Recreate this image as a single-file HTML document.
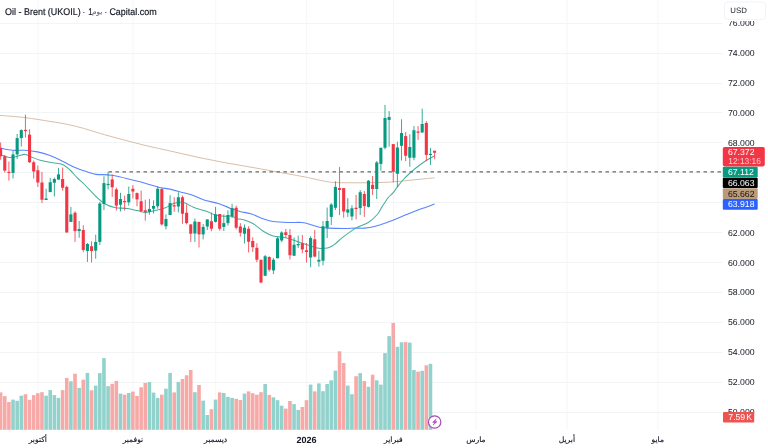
<!DOCTYPE html>
<html lang="ar">
<head>
<meta charset="utf-8">
<title>Oil - Brent (UKOIL)</title>
<style>
html,body{margin:0;padding:0;background:#fff;}
body{width:768px;height:448px;overflow:hidden;position:relative;font-family:"Liberation Sans","DejaVu Sans",sans-serif;}
svg{position:absolute;left:0;top:0;display:block;}
svg text{font-family:"Liberation Sans","DejaVu Sans",sans-serif;text-rendering:geometricPrecision;}
.ax{font-size:8.7px;fill:#131722;}
.ti{font-size:9.7px;fill:#131722;stroke:#131722;stroke-width:.18px;}
.tm{font-size:7.6px;fill:#131722;text-anchor:middle;stroke:#131722;stroke-width:.15px;}
.lb{font-size:8.7px;fill:#fff;}
</style>
</head>
<body>
<svg width="768" height="448" viewBox="0 0 768 448">
<rect x="0" y="0" width="768" height="448" fill="#ffffff"/>

<g fill="#f2f5f6">
<rect x="0" y="23" width="722.3" height="1"/>
<rect x="0" y="53" width="722.3" height="1"/>
<rect x="0" y="83" width="722.3" height="1"/>
<rect x="0" y="112" width="722.3" height="1"/>
<rect x="0" y="142" width="722.3" height="1"/>
<rect x="0" y="172" width="722.3" height="1"/>
<rect x="0" y="202" width="722.3" height="1"/>
<rect x="0" y="232" width="722.3" height="1"/>
<rect x="0" y="262" width="722.3" height="1"/>
<rect x="0" y="292" width="722.3" height="1"/>
<rect x="0" y="322" width="722.3" height="1"/>
<rect x="0" y="352" width="722.3" height="1"/>
<rect x="0" y="382" width="722.3" height="1"/>
<rect x="0" y="412" width="722.3" height="1"/>
</g>
<g stroke="#f4f6f8" stroke-width="1">
<line x1="38.03" y1="0" x2="38.03" y2="430"/>
<line x1="133.09" y1="0" x2="133.09" y2="430"/>
<line x1="215.75" y1="0" x2="215.75" y2="430"/>
<line x1="306.68" y1="0" x2="306.68" y2="430"/>
<line x1="393.47" y1="0" x2="393.47" y2="430"/>
<line x1="476.13" y1="0" x2="476.13" y2="430"/>
<line x1="567.06" y1="0" x2="567.06" y2="430"/>
<line x1="657.98" y1="0" x2="657.98" y2="430"/>
</g>
<g>
<rect x="0.00" y="392.40" width="2.43" height="37.40" fill="#f7a9a7"/>
<rect x="2.96" y="396.10" width="3.60" height="33.70" fill="#f7a9a7"/>
<rect x="7.10" y="402.00" width="3.60" height="27.80" fill="#f7a9a7"/>
<rect x="11.23" y="399.60" width="3.60" height="30.20" fill="#92d2cc"/>
<rect x="15.36" y="400.80" width="3.60" height="29.00" fill="#92d2cc"/>
<rect x="19.49" y="395.70" width="3.60" height="34.10" fill="#92d2cc"/>
<rect x="23.63" y="394.20" width="3.60" height="35.60" fill="#f7a9a7"/>
<rect x="27.76" y="399.80" width="3.60" height="30.00" fill="#f7a9a7"/>
<rect x="31.89" y="395.10" width="3.60" height="34.70" fill="#f7a9a7"/>
<rect x="36.03" y="393.20" width="3.60" height="36.60" fill="#f7a9a7"/>
<rect x="40.16" y="392.20" width="3.60" height="37.60" fill="#f7a9a7"/>
<rect x="44.29" y="395.70" width="3.60" height="34.10" fill="#92d2cc"/>
<rect x="48.43" y="390.10" width="3.60" height="39.70" fill="#92d2cc"/>
<rect x="52.56" y="395.10" width="3.60" height="34.70" fill="#92d2cc"/>
<rect x="56.69" y="397.90" width="3.60" height="31.90" fill="#92d2cc"/>
<rect x="60.83" y="390.10" width="3.60" height="39.70" fill="#f7a9a7"/>
<rect x="64.96" y="378.00" width="3.60" height="51.80" fill="#f7a9a7"/>
<rect x="69.09" y="381.30" width="3.60" height="48.50" fill="#92d2cc"/>
<rect x="73.22" y="373.70" width="3.60" height="56.10" fill="#f7a9a7"/>
<rect x="77.36" y="387.90" width="3.60" height="41.90" fill="#92d2cc"/>
<rect x="81.49" y="379.70" width="3.60" height="50.10" fill="#f7a9a7"/>
<rect x="85.62" y="372.90" width="3.60" height="56.90" fill="#92d2cc"/>
<rect x="89.76" y="390.30" width="3.60" height="39.50" fill="#f7a9a7"/>
<rect x="93.89" y="385.60" width="3.60" height="44.20" fill="#92d2cc"/>
<rect x="98.02" y="373.10" width="3.60" height="56.70" fill="#92d2cc"/>
<rect x="102.16" y="358.10" width="3.60" height="71.70" fill="#92d2cc"/>
<rect x="106.29" y="386.20" width="3.60" height="43.60" fill="#92d2cc"/>
<rect x="110.42" y="383.80" width="3.60" height="46.00" fill="#f7a9a7"/>
<rect x="114.55" y="380.90" width="3.60" height="48.90" fill="#f7a9a7"/>
<rect x="118.69" y="393.60" width="3.60" height="36.20" fill="#92d2cc"/>
<rect x="122.82" y="394.70" width="3.60" height="35.10" fill="#f7a9a7"/>
<rect x="126.95" y="393.00" width="3.60" height="36.80" fill="#92d2cc"/>
<rect x="131.09" y="391.60" width="3.60" height="38.20" fill="#f7a9a7"/>
<rect x="135.22" y="395.90" width="3.60" height="33.90" fill="#f7a9a7"/>
<rect x="139.35" y="387.30" width="3.60" height="42.50" fill="#f7a9a7"/>
<rect x="143.48" y="382.90" width="3.60" height="46.90" fill="#f7a9a7"/>
<rect x="147.62" y="382.10" width="3.60" height="47.70" fill="#92d2cc"/>
<rect x="151.75" y="392.60" width="3.60" height="37.20" fill="#92d2cc"/>
<rect x="155.88" y="397.90" width="3.60" height="31.90" fill="#92d2cc"/>
<rect x="160.02" y="394.70" width="3.60" height="35.10" fill="#f7a9a7"/>
<rect x="164.15" y="388.70" width="3.60" height="41.10" fill="#92d2cc"/>
<rect x="168.28" y="372.90" width="3.60" height="56.90" fill="#92d2cc"/>
<rect x="172.42" y="392.40" width="3.60" height="37.40" fill="#f7a9a7"/>
<rect x="176.55" y="381.90" width="3.60" height="47.90" fill="#92d2cc"/>
<rect x="180.68" y="379.00" width="3.60" height="50.80" fill="#f7a9a7"/>
<rect x="184.81" y="375.30" width="3.60" height="54.50" fill="#f7a9a7"/>
<rect x="188.95" y="370.00" width="3.60" height="59.80" fill="#f7a9a7"/>
<rect x="193.08" y="392.20" width="3.60" height="37.60" fill="#92d2cc"/>
<rect x="197.21" y="385.00" width="3.60" height="44.80" fill="#f7a9a7"/>
<rect x="201.35" y="400.60" width="3.60" height="29.20" fill="#92d2cc"/>
<rect x="205.48" y="415.00" width="3.60" height="14.80" fill="#92d2cc"/>
<rect x="209.61" y="409.20" width="3.60" height="20.60" fill="#f7a9a7"/>
<rect x="213.75" y="399.60" width="3.60" height="30.20" fill="#92d2cc"/>
<rect x="217.88" y="392.40" width="3.60" height="37.40" fill="#f7a9a7"/>
<rect x="222.01" y="393.00" width="3.60" height="36.80" fill="#92d2cc"/>
<rect x="226.14" y="396.90" width="3.60" height="32.90" fill="#92d2cc"/>
<rect x="230.28" y="397.90" width="3.60" height="31.90" fill="#92d2cc"/>
<rect x="234.41" y="398.80" width="3.60" height="31.00" fill="#f7a9a7"/>
<rect x="238.54" y="400.00" width="3.60" height="29.80" fill="#f7a9a7"/>
<rect x="242.68" y="393.60" width="3.60" height="36.20" fill="#92d2cc"/>
<rect x="246.81" y="391.40" width="3.60" height="38.40" fill="#f7a9a7"/>
<rect x="250.94" y="393.20" width="3.60" height="36.60" fill="#f7a9a7"/>
<rect x="255.08" y="394.70" width="3.60" height="35.10" fill="#f7a9a7"/>
<rect x="259.21" y="392.20" width="3.60" height="37.60" fill="#f7a9a7"/>
<rect x="263.34" y="384.00" width="3.60" height="45.80" fill="#92d2cc"/>
<rect x="267.47" y="394.90" width="3.60" height="34.90" fill="#f7a9a7"/>
<rect x="271.61" y="397.30" width="3.60" height="32.50" fill="#92d2cc"/>
<rect x="275.74" y="400.20" width="3.60" height="29.60" fill="#92d2cc"/>
<rect x="279.87" y="405.70" width="3.60" height="24.10" fill="#92d2cc"/>
<rect x="284.01" y="408.60" width="3.60" height="21.20" fill="#f7a9a7"/>
<rect x="288.14" y="401.00" width="3.60" height="28.80" fill="#f7a9a7"/>
<rect x="292.27" y="404.10" width="3.60" height="25.70" fill="#92d2cc"/>
<rect x="296.41" y="409.90" width="3.60" height="19.90" fill="#92d2cc"/>
<rect x="300.54" y="407.00" width="3.60" height="22.80" fill="#f7a9a7"/>
<rect x="304.67" y="400.20" width="3.60" height="29.60" fill="#f7a9a7"/>
<rect x="308.81" y="384.60" width="3.60" height="45.20" fill="#92d2cc"/>
<rect x="312.94" y="391.40" width="3.60" height="38.40" fill="#f7a9a7"/>
<rect x="317.07" y="383.40" width="3.60" height="46.40" fill="#92d2cc"/>
<rect x="321.20" y="391.20" width="3.60" height="38.60" fill="#92d2cc"/>
<rect x="325.34" y="384.00" width="3.60" height="45.80" fill="#92d2cc"/>
<rect x="329.47" y="380.30" width="3.60" height="49.50" fill="#92d2cc"/>
<rect x="333.60" y="370.60" width="3.60" height="59.20" fill="#92d2cc"/>
<rect x="337.74" y="351.30" width="3.60" height="78.50" fill="#f7a9a7"/>
<rect x="341.87" y="363.00" width="3.60" height="66.80" fill="#f7a9a7"/>
<rect x="346.00" y="385.60" width="3.60" height="44.20" fill="#92d2cc"/>
<rect x="350.13" y="394.20" width="3.60" height="35.60" fill="#92d2cc"/>
<rect x="354.27" y="376.20" width="3.60" height="53.60" fill="#f7a9a7"/>
<rect x="358.40" y="373.10" width="3.60" height="56.70" fill="#92d2cc"/>
<rect x="362.53" y="381.10" width="3.60" height="48.70" fill="#f7a9a7"/>
<rect x="366.67" y="386.80" width="3.60" height="43.00" fill="#92d2cc"/>
<rect x="370.80" y="374.70" width="3.60" height="55.10" fill="#f7a9a7"/>
<rect x="374.93" y="380.30" width="3.60" height="49.50" fill="#92d2cc"/>
<rect x="379.07" y="384.60" width="3.60" height="45.20" fill="#92d2cc"/>
<rect x="383.20" y="353.10" width="3.60" height="76.70" fill="#92d2cc"/>
<rect x="387.33" y="336.10" width="3.60" height="93.70" fill="#92d2cc"/>
<rect x="391.46" y="322.85" width="3.60" height="106.95" fill="#f7a9a7"/>
<rect x="395.60" y="346.80" width="3.60" height="83.00" fill="#92d2cc"/>
<rect x="399.73" y="342.30" width="3.60" height="87.50" fill="#92d2cc"/>
<rect x="403.86" y="342.10" width="3.60" height="87.70" fill="#f7a9a7"/>
<rect x="408.00" y="342.60" width="3.60" height="87.20" fill="#92d2cc"/>
<rect x="412.13" y="370.00" width="3.60" height="59.80" fill="#92d2cc"/>
<rect x="416.26" y="371.60" width="3.60" height="58.20" fill="#f7a9a7"/>
<rect x="420.40" y="370.80" width="3.60" height="59.00" fill="#92d2cc"/>
<rect x="424.53" y="365.30" width="3.60" height="64.50" fill="#f7a9a7"/>
<rect x="428.66" y="363.80" width="3.60" height="66.00" fill="#92d2cc"/>
</g>
<path d="M0.00 115.40 C4.17 115.77 16.67 116.60 25.00 117.60 C33.33 118.60 43.00 120.28 50.00 121.40 C57.00 122.52 61.38 123.13 67.00 124.30 C72.62 125.47 78.13 126.87 83.70 128.40 C89.27 129.93 94.85 131.88 100.40 133.50 C105.95 135.12 112.40 136.85 117.00 138.10 C121.60 139.35 123.17 139.75 128.00 141.00 C132.83 142.25 138.67 143.87 146.00 145.60 C153.33 147.33 163.33 149.45 172.00 151.40 C180.67 153.35 189.33 155.45 198.00 157.30 C206.67 159.15 215.33 160.88 224.00 162.50 C232.67 164.12 241.33 165.47 250.00 167.00 C258.67 168.53 267.33 170.13 276.00 171.70 C284.67 173.27 296.00 175.27 302.00 176.40 C308.00 177.53 308.25 177.69 312.00 178.50 C315.75 179.31 320.75 180.58 324.50 181.25 C328.25 181.92 330.25 182.25 334.50 182.50 C338.75 182.75 344.42 182.71 350.00 182.75 C355.58 182.79 361.83 182.83 368.00 182.75 C374.17 182.67 382.08 182.46 387.00 182.25 C391.92 182.04 393.67 181.83 397.50 181.50 C401.33 181.17 405.83 180.67 410.00 180.25 C414.17 179.83 418.40 179.41 422.50 179.00 C426.60 178.59 432.58 178.00 434.60 177.80" fill="none" stroke="#d6bba4" stroke-width="0.95" stroke-linejoin="round"/>
<path d="M0.00 148.10 C2.08 148.46 8.33 149.89 12.50 150.25 C16.67 150.61 20.83 149.97 25.00 150.25 C29.17 150.53 33.33 151.01 37.50 151.90 C41.67 152.79 45.83 154.04 50.00 155.60 C54.17 157.16 58.33 159.27 62.50 161.25 C66.67 163.23 70.83 165.72 75.00 167.50 C79.17 169.28 84.00 170.75 87.50 171.90 C91.00 173.05 91.92 173.84 96.00 174.40 C100.08 174.96 105.75 174.28 112.00 175.25 C118.25 176.22 127.83 178.88 133.50 180.25 C139.17 181.62 141.83 182.33 146.00 183.50 C150.17 184.67 154.33 186.27 158.50 187.25 C162.67 188.23 166.83 188.48 171.00 189.40 C175.17 190.32 180.00 191.82 183.50 192.75 C187.00 193.68 188.58 193.79 192.00 195.00 C195.42 196.21 199.50 198.54 204.00 200.00 C208.50 201.46 214.42 202.29 219.00 203.75 C223.58 205.21 228.00 207.46 231.50 208.75 C235.00 210.04 236.79 210.67 240.00 211.50 C243.21 212.33 246.88 212.54 250.75 213.75 C254.62 214.96 259.50 217.46 263.25 218.75 C267.00 220.04 269.08 220.88 273.25 221.50 C277.42 222.12 283.46 222.33 288.25 222.50 C293.04 222.67 298.04 222.08 302.00 222.50 C305.96 222.92 309.08 224.21 312.00 225.00 C314.92 225.79 316.79 226.73 319.50 227.25 C322.21 227.77 324.29 227.89 328.25 228.10 C332.21 228.31 338.67 228.50 343.25 228.50 C347.83 228.50 352.21 228.17 355.75 228.10 C359.29 228.03 361.38 228.37 364.50 228.10 C367.62 227.83 370.75 227.43 374.50 226.50 C378.25 225.57 382.83 224.00 387.00 222.50 C391.17 221.00 396.00 218.92 399.50 217.50 C403.00 216.08 404.58 215.37 408.00 214.00 C411.42 212.63 415.57 210.97 420.00 209.30 C424.43 207.63 432.17 204.88 434.60 204.00" fill="none" stroke="#5a84ff" stroke-width="1.1" stroke-linejoin="round"/>
<path d="M0.00 155.00 C0.83 155.21 3.43 155.83 5.00 156.25 C6.57 156.67 7.32 157.50 9.40 157.50 C11.48 157.50 14.90 156.77 17.50 156.25 C20.10 155.73 22.71 154.29 25.00 154.40 C27.29 154.51 28.54 155.87 31.25 156.90 C33.96 157.93 37.71 159.62 41.25 160.60 C44.79 161.57 48.96 162.12 52.50 162.75 C56.04 163.38 59.58 163.19 62.50 164.40 C65.42 165.61 67.50 167.72 70.00 170.00 C72.50 172.28 75.00 175.60 77.50 178.10 C80.00 180.60 81.92 181.93 85.00 185.00 C88.08 188.07 92.71 193.38 96.00 196.50 C99.29 199.62 101.62 201.92 104.75 203.75 C107.88 205.58 111.00 206.71 114.75 207.50 C118.50 208.29 123.50 207.98 127.25 208.50 C131.00 209.02 134.12 209.93 137.25 210.60 C140.38 211.27 143.08 212.50 146.00 212.50 C148.92 212.50 151.62 211.33 154.75 210.60 C157.88 209.87 161.62 209.27 164.75 208.10 C167.88 206.93 170.96 204.58 173.50 203.60 C176.04 202.62 178.04 202.28 180.00 202.20 C181.96 202.12 182.92 202.22 185.25 203.10 C187.58 203.98 190.46 206.14 194.00 207.50 C197.54 208.86 203.17 210.10 206.50 211.25 C209.83 212.40 211.08 213.57 214.00 214.40 C216.92 215.23 221.08 215.98 224.00 216.25 C226.92 216.52 229.33 215.58 231.50 216.00 C233.67 216.42 234.83 218.08 237.00 218.75 C239.17 219.42 241.79 219.17 244.50 220.00 C247.21 220.83 250.12 221.88 253.25 223.75 C256.38 225.62 259.92 229.21 263.25 231.25 C266.58 233.29 269.71 234.96 273.25 236.00 C276.79 237.04 280.96 236.73 284.50 237.50 C288.04 238.27 290.75 239.39 294.50 240.60 C298.25 241.81 303.25 243.50 307.00 244.75 C310.75 246.00 314.08 247.51 317.00 248.10 C319.92 248.69 322.50 248.38 324.50 248.30 C326.50 248.22 327.33 248.25 329.00 247.60 C330.67 246.95 332.12 246.18 334.50 244.40 C336.88 242.62 339.71 239.62 343.25 236.90 C346.79 234.18 351.58 230.50 355.75 228.10 C359.92 225.70 364.71 224.72 368.25 222.50 C371.79 220.28 374.71 217.35 377.00 214.75 C379.29 212.15 380.12 209.78 382.00 206.90 C383.88 204.03 386.42 199.83 388.25 197.50 C390.08 195.17 391.46 194.69 393.00 192.90 C394.54 191.11 395.92 188.82 397.50 186.75 C399.08 184.68 400.42 182.79 402.50 180.50 C404.58 178.21 407.50 175.29 410.00 173.00 C412.50 170.71 414.79 168.83 417.50 166.75 C420.21 164.67 423.40 162.29 426.25 160.50 C429.10 158.71 433.21 156.75 434.60 156.00" fill="none" stroke="#45b09d" stroke-width="1.05" stroke-linejoin="round"/>
<line x1="108.5" y1="171.9" x2="722.8" y2="171.9" stroke="#686868" stroke-width="1.25" stroke-dasharray="3.5 3.5"/>
<g>
<rect x="0.13" y="142.50" width="1" height="17.25" fill="#f23645" opacity="0.8"/>
<rect x="-0.92" y="147.90" width="3.1" height="8.35" fill="#f23645"/>
<rect x="4.26" y="155.00" width="1" height="17.50" fill="#f23645" opacity="0.8"/>
<rect x="3.21" y="156.25" width="3.1" height="14.35" fill="#f23645"/>
<rect x="8.40" y="161.50" width="1" height="19.10" fill="#f23645" opacity="0.8"/>
<rect x="7.35" y="171.80" width="3.1" height="1.20" fill="#f23645"/>
<rect x="12.53" y="151.00" width="1" height="27.50" fill="#089981" opacity="0.8"/>
<rect x="11.48" y="154.40" width="3.1" height="18.50" fill="#089981"/>
<rect x="16.66" y="134.00" width="1" height="25.00" fill="#089981" opacity="0.8"/>
<rect x="15.61" y="138.10" width="3.1" height="16.30" fill="#089981"/>
<rect x="20.79" y="129.30" width="1" height="17.20" fill="#089981" opacity="0.8"/>
<rect x="19.74" y="130.10" width="3.1" height="8.00" fill="#089981"/>
<rect x="24.93" y="114.70" width="1" height="22.90" fill="#f23645" opacity="0.8"/>
<rect x="23.88" y="129.90" width="3.1" height="1.20" fill="#f23645"/>
<rect x="29.06" y="129.30" width="1" height="33.70" fill="#f23645" opacity="0.8"/>
<rect x="28.01" y="134.60" width="3.1" height="27.65" fill="#f23645"/>
<rect x="33.19" y="160.60" width="1" height="17.90" fill="#f23645" opacity="0.8"/>
<rect x="32.14" y="162.25" width="3.1" height="9.25" fill="#f23645"/>
<rect x="37.33" y="165.60" width="1" height="21.30" fill="#f23645" opacity="0.8"/>
<rect x="36.28" y="170.25" width="3.1" height="12.25" fill="#f23645"/>
<rect x="41.46" y="171.90" width="1" height="31.20" fill="#f23645" opacity="0.8"/>
<rect x="40.41" y="182.50" width="3.1" height="17.25" fill="#f23645"/>
<rect x="45.59" y="188.75" width="1" height="11.25" fill="#089981" opacity="0.8"/>
<rect x="44.54" y="198.50" width="3.1" height="1.50" fill="#089981"/>
<rect x="49.73" y="178.00" width="1" height="14.10" fill="#089981" opacity="0.8"/>
<rect x="48.68" y="182.25" width="3.1" height="9.85" fill="#089981"/>
<rect x="53.86" y="177.50" width="1" height="19.00" fill="#089981" opacity="0.8"/>
<rect x="52.81" y="179.00" width="3.1" height="3.75" fill="#089981"/>
<rect x="57.99" y="167.90" width="1" height="11.70" fill="#089981" opacity="0.8"/>
<rect x="56.94" y="174.40" width="3.1" height="5.20" fill="#089981"/>
<rect x="62.12" y="167.50" width="1" height="23.10" fill="#f23645" opacity="0.8"/>
<rect x="61.08" y="179.00" width="3.1" height="8.75" fill="#f23645"/>
<rect x="66.26" y="185.60" width="1" height="46.90" fill="#f23645" opacity="0.8"/>
<rect x="65.21" y="186.90" width="3.1" height="45.60" fill="#f23645"/>
<rect x="70.39" y="206.90" width="1" height="15.00" fill="#089981" opacity="0.8"/>
<rect x="69.34" y="214.40" width="3.1" height="7.50" fill="#089981"/>
<rect x="74.52" y="211.25" width="1" height="30.65" fill="#f23645" opacity="0.8"/>
<rect x="73.47" y="212.75" width="3.1" height="18.35" fill="#f23645"/>
<rect x="78.66" y="221.00" width="1" height="16.75" fill="#089981" opacity="0.8"/>
<rect x="77.61" y="229.00" width="3.1" height="2.00" fill="#089981"/>
<rect x="82.79" y="225.25" width="1" height="27.00" fill="#f23645" opacity="0.8"/>
<rect x="81.74" y="230.00" width="3.1" height="20.00" fill="#f23645"/>
<rect x="86.92" y="243.00" width="1" height="18.90" fill="#089981" opacity="0.8"/>
<rect x="85.87" y="244.00" width="3.1" height="7.00" fill="#089981"/>
<rect x="91.06" y="241.25" width="1" height="21.25" fill="#f23645" opacity="0.8"/>
<rect x="90.01" y="246.25" width="3.1" height="4.75" fill="#f23645"/>
<rect x="95.19" y="234.75" width="1" height="24.00" fill="#089981" opacity="0.8"/>
<rect x="94.14" y="241.90" width="3.1" height="8.70" fill="#089981"/>
<rect x="99.32" y="201.90" width="1" height="43.10" fill="#089981" opacity="0.8"/>
<rect x="98.27" y="203.50" width="3.1" height="38.40" fill="#089981"/>
<rect x="103.45" y="176.25" width="1" height="33.75" fill="#089981" opacity="0.8"/>
<rect x="102.41" y="183.10" width="3.1" height="20.90" fill="#089981"/>
<rect x="107.59" y="171.90" width="1" height="17.50" fill="#089981" opacity="0.8"/>
<rect x="106.54" y="183.90" width="3.1" height="1.20" fill="#089981"/>
<rect x="111.72" y="174.40" width="1" height="22.50" fill="#f23645" opacity="0.8"/>
<rect x="110.67" y="179.40" width="3.1" height="7.85" fill="#f23645"/>
<rect x="115.85" y="187.50" width="1" height="23.10" fill="#f23645" opacity="0.8"/>
<rect x="114.80" y="189.40" width="3.1" height="16.20" fill="#f23645"/>
<rect x="119.99" y="192.75" width="1" height="18.75" fill="#089981" opacity="0.8"/>
<rect x="118.94" y="199.00" width="3.1" height="5.75" fill="#089981"/>
<rect x="124.12" y="195.60" width="1" height="15.00" fill="#f23645" opacity="0.8"/>
<rect x="123.07" y="201.00" width="3.1" height="1.25" fill="#f23645"/>
<rect x="128.25" y="186.50" width="1" height="19.10" fill="#089981" opacity="0.8"/>
<rect x="127.20" y="194.00" width="3.1" height="8.25" fill="#089981"/>
<rect x="132.39" y="185.00" width="1" height="13.50" fill="#f23645" opacity="0.8"/>
<rect x="131.34" y="188.75" width="3.1" height="2.75" fill="#f23645"/>
<rect x="136.52" y="192.50" width="1" height="13.75" fill="#f23645" opacity="0.8"/>
<rect x="135.47" y="193.10" width="3.1" height="6.30" fill="#f23645"/>
<rect x="140.65" y="190.60" width="1" height="21.30" fill="#f23645" opacity="0.8"/>
<rect x="139.60" y="201.25" width="3.1" height="9.75" fill="#f23645"/>
<rect x="144.78" y="199.75" width="1" height="20.85" fill="#f23645" opacity="0.8"/>
<rect x="143.73" y="210.25" width="3.1" height="1.65" fill="#f23645"/>
<rect x="148.92" y="199.00" width="1" height="15.75" fill="#089981" opacity="0.8"/>
<rect x="147.87" y="209.00" width="3.1" height="2.90" fill="#089981"/>
<rect x="153.05" y="200.25" width="1" height="13.25" fill="#089981" opacity="0.8"/>
<rect x="152.00" y="206.00" width="3.1" height="2.75" fill="#089981"/>
<rect x="157.18" y="186.25" width="1" height="22.50" fill="#089981" opacity="0.8"/>
<rect x="156.13" y="188.75" width="3.1" height="17.50" fill="#089981"/>
<rect x="161.32" y="188.00" width="1" height="37.60" fill="#f23645" opacity="0.8"/>
<rect x="160.27" y="189.00" width="3.1" height="35.40" fill="#f23645"/>
<rect x="165.45" y="214.40" width="1" height="15.00" fill="#089981" opacity="0.8"/>
<rect x="164.40" y="219.00" width="3.1" height="7.25" fill="#089981"/>
<rect x="169.58" y="195.25" width="1" height="19.75" fill="#089981" opacity="0.8"/>
<rect x="168.53" y="203.10" width="3.1" height="11.90" fill="#089981"/>
<rect x="173.72" y="197.25" width="1" height="14.45" fill="#f23645" opacity="0.8"/>
<rect x="172.67" y="205.25" width="3.1" height="1.25" fill="#f23645"/>
<rect x="177.85" y="192.25" width="1" height="20.25" fill="#089981" opacity="0.8"/>
<rect x="176.80" y="197.25" width="3.1" height="9.25" fill="#089981"/>
<rect x="181.98" y="195.60" width="1" height="28.15" fill="#f23645" opacity="0.8"/>
<rect x="180.93" y="197.25" width="3.1" height="16.50" fill="#f23645"/>
<rect x="186.12" y="204.40" width="1" height="20.00" fill="#f23645" opacity="0.8"/>
<rect x="185.06" y="212.75" width="3.1" height="10.35" fill="#f23645"/>
<rect x="190.25" y="224.40" width="1" height="17.50" fill="#f23645" opacity="0.8"/>
<rect x="189.20" y="224.40" width="3.1" height="9.35" fill="#f23645"/>
<rect x="194.38" y="218.50" width="1" height="23.40" fill="#089981" opacity="0.8"/>
<rect x="193.33" y="221.50" width="3.1" height="12.00" fill="#089981"/>
<rect x="198.51" y="221.90" width="1" height="25.60" fill="#f23645" opacity="0.8"/>
<rect x="197.46" y="221.90" width="3.1" height="12.50" fill="#f23645"/>
<rect x="202.65" y="224.00" width="1" height="15.40" fill="#089981" opacity="0.8"/>
<rect x="201.60" y="226.90" width="3.1" height="7.50" fill="#089981"/>
<rect x="206.78" y="219.40" width="1" height="10.60" fill="#089981" opacity="0.8"/>
<rect x="205.73" y="219.40" width="3.1" height="7.10" fill="#089981"/>
<rect x="210.91" y="212.50" width="1" height="18.75" fill="#f23645" opacity="0.8"/>
<rect x="209.86" y="221.25" width="3.1" height="7.50" fill="#f23645"/>
<rect x="215.05" y="206.90" width="1" height="15.60" fill="#089981" opacity="0.8"/>
<rect x="214.00" y="214.40" width="3.1" height="7.50" fill="#089981"/>
<rect x="219.18" y="214.00" width="1" height="16.60" fill="#f23645" opacity="0.8"/>
<rect x="218.13" y="214.00" width="3.1" height="14.75" fill="#f23645"/>
<rect x="223.31" y="214.40" width="1" height="16.60" fill="#089981" opacity="0.8"/>
<rect x="222.26" y="223.10" width="3.1" height="3.80" fill="#089981"/>
<rect x="227.44" y="210.25" width="1" height="15.35" fill="#089981" opacity="0.8"/>
<rect x="226.39" y="215.00" width="3.1" height="8.10" fill="#089981"/>
<rect x="231.58" y="203.75" width="1" height="14.25" fill="#089981" opacity="0.8"/>
<rect x="230.53" y="208.10" width="3.1" height="8.40" fill="#089981"/>
<rect x="235.71" y="205.60" width="1" height="23.80" fill="#f23645" opacity="0.8"/>
<rect x="234.66" y="207.75" width="3.1" height="20.00" fill="#f23645"/>
<rect x="239.84" y="223.10" width="1" height="13.40" fill="#f23645" opacity="0.8"/>
<rect x="238.79" y="226.50" width="3.1" height="6.25" fill="#f23645"/>
<rect x="243.98" y="224.40" width="1" height="19.10" fill="#089981" opacity="0.8"/>
<rect x="242.93" y="227.75" width="3.1" height="6.00" fill="#089981"/>
<rect x="248.11" y="226.25" width="1" height="26.25" fill="#f23645" opacity="0.8"/>
<rect x="247.06" y="228.75" width="3.1" height="13.00" fill="#f23645"/>
<rect x="252.24" y="237.25" width="1" height="14.75" fill="#f23645" opacity="0.8"/>
<rect x="251.19" y="241.00" width="3.1" height="6.25" fill="#f23645"/>
<rect x="256.38" y="243.20" width="1" height="19.05" fill="#f23645" opacity="0.8"/>
<rect x="255.33" y="247.80" width="3.1" height="11.95" fill="#f23645"/>
<rect x="260.51" y="259.75" width="1" height="23.50" fill="#f23645" opacity="0.8"/>
<rect x="259.46" y="259.75" width="3.1" height="22.75" fill="#f23645"/>
<rect x="264.64" y="255.00" width="1" height="21.25" fill="#089981" opacity="0.8"/>
<rect x="263.59" y="256.25" width="3.1" height="19.50" fill="#089981"/>
<rect x="268.77" y="256.25" width="1" height="15.35" fill="#f23645" opacity="0.8"/>
<rect x="267.72" y="257.00" width="3.1" height="12.75" fill="#f23645"/>
<rect x="272.91" y="257.90" width="1" height="16.20" fill="#089981" opacity="0.8"/>
<rect x="271.86" y="259.75" width="3.1" height="10.65" fill="#089981"/>
<rect x="277.04" y="236.90" width="1" height="21.35" fill="#089981" opacity="0.8"/>
<rect x="275.99" y="238.30" width="3.1" height="19.95" fill="#089981"/>
<rect x="281.17" y="231.25" width="1" height="10.95" fill="#089981" opacity="0.8"/>
<rect x="280.12" y="232.50" width="3.1" height="8.00" fill="#089981"/>
<rect x="285.31" y="229.00" width="1" height="8.50" fill="#f23645" opacity="0.8"/>
<rect x="284.26" y="232.25" width="3.1" height="2.75" fill="#f23645"/>
<rect x="289.44" y="229.00" width="1" height="30.50" fill="#f23645" opacity="0.8"/>
<rect x="288.39" y="235.00" width="3.1" height="20.20" fill="#f23645"/>
<rect x="293.57" y="237.50" width="1" height="18.25" fill="#089981" opacity="0.8"/>
<rect x="292.52" y="244.75" width="3.1" height="11.00" fill="#089981"/>
<rect x="297.71" y="235.60" width="1" height="12.40" fill="#089981" opacity="0.8"/>
<rect x="296.66" y="244.00" width="3.1" height="1.30" fill="#089981"/>
<rect x="301.84" y="235.00" width="1" height="18.20" fill="#f23645" opacity="0.8"/>
<rect x="300.79" y="243.20" width="3.1" height="6.25" fill="#f23645"/>
<rect x="305.97" y="243.00" width="1" height="19.50" fill="#f23645" opacity="0.8"/>
<rect x="304.92" y="250.30" width="3.1" height="1.70" fill="#f23645"/>
<rect x="310.11" y="236.25" width="1" height="31.00" fill="#089981" opacity="0.8"/>
<rect x="309.06" y="238.00" width="3.1" height="19.50" fill="#089981"/>
<rect x="314.24" y="230.10" width="1" height="27.15" fill="#f23645" opacity="0.8"/>
<rect x="313.19" y="239.25" width="3.1" height="17.35" fill="#f23645"/>
<rect x="318.37" y="250.80" width="1" height="15.80" fill="#089981" opacity="0.8"/>
<rect x="317.32" y="259.75" width="3.1" height="1.85" fill="#089981"/>
<rect x="322.50" y="221.00" width="1" height="44.40" fill="#089981" opacity="0.8"/>
<rect x="321.45" y="226.25" width="3.1" height="34.50" fill="#089981"/>
<rect x="326.64" y="207.50" width="1" height="30.60" fill="#089981" opacity="0.8"/>
<rect x="325.59" y="221.00" width="3.1" height="6.75" fill="#089981"/>
<rect x="330.77" y="203.10" width="1" height="21.90" fill="#089981" opacity="0.8"/>
<rect x="329.72" y="204.50" width="3.1" height="12.40" fill="#089981"/>
<rect x="334.90" y="181.25" width="1" height="28.75" fill="#089981" opacity="0.8"/>
<rect x="333.85" y="186.90" width="3.1" height="20.85" fill="#089981"/>
<rect x="339.04" y="166.90" width="1" height="48.20" fill="#f23645" opacity="0.8"/>
<rect x="337.99" y="188.10" width="3.1" height="1.90" fill="#f23645"/>
<rect x="343.17" y="188.10" width="1" height="29.65" fill="#f23645" opacity="0.8"/>
<rect x="342.12" y="188.10" width="3.1" height="23.40" fill="#f23645"/>
<rect x="347.30" y="198.10" width="1" height="18.80" fill="#089981" opacity="0.8"/>
<rect x="346.25" y="209.40" width="3.1" height="3.20" fill="#089981"/>
<rect x="351.44" y="205.25" width="1" height="15.00" fill="#089981" opacity="0.8"/>
<rect x="350.38" y="208.30" width="3.1" height="8.20" fill="#089981"/>
<rect x="355.57" y="195.00" width="1" height="24.40" fill="#f23645" opacity="0.8"/>
<rect x="354.52" y="207.75" width="3.1" height="1.25" fill="#f23645"/>
<rect x="359.70" y="190.00" width="1" height="25.00" fill="#089981" opacity="0.8"/>
<rect x="358.65" y="192.25" width="3.1" height="15.85" fill="#089981"/>
<rect x="363.83" y="191.00" width="1" height="25.90" fill="#f23645" opacity="0.8"/>
<rect x="362.78" y="194.00" width="3.1" height="12.10" fill="#f23645"/>
<rect x="367.97" y="180.00" width="1" height="27.50" fill="#089981" opacity="0.8"/>
<rect x="366.92" y="180.70" width="3.1" height="26.20" fill="#089981"/>
<rect x="372.10" y="176.00" width="1" height="19.00" fill="#f23645" opacity="0.8"/>
<rect x="371.05" y="184.80" width="3.1" height="4.20" fill="#f23645"/>
<rect x="376.23" y="161.00" width="1" height="38.00" fill="#089981" opacity="0.8"/>
<rect x="375.18" y="162.45" width="3.1" height="26.55" fill="#089981"/>
<rect x="380.37" y="147.75" width="1" height="22.95" fill="#089981" opacity="0.8"/>
<rect x="379.32" y="147.75" width="3.1" height="16.15" fill="#089981"/>
<rect x="384.50" y="104.90" width="1" height="44.50" fill="#089981" opacity="0.8"/>
<rect x="383.45" y="118.00" width="3.1" height="29.75" fill="#089981"/>
<rect x="388.63" y="111.10" width="1" height="35.65" fill="#089981" opacity="0.8"/>
<rect x="387.58" y="117.00" width="3.1" height="2.90" fill="#089981"/>
<rect x="392.76" y="144.10" width="1" height="38.30" fill="#f23645" opacity="0.8"/>
<rect x="391.71" y="144.10" width="3.1" height="27.70" fill="#f23645"/>
<rect x="396.90" y="141.75" width="1" height="45.65" fill="#089981" opacity="0.8"/>
<rect x="395.85" y="147.50" width="3.1" height="26.25" fill="#089981"/>
<rect x="401.03" y="119.25" width="1" height="41.25" fill="#089981" opacity="0.8"/>
<rect x="399.98" y="133.00" width="3.1" height="12.80" fill="#089981"/>
<rect x="405.16" y="132.00" width="1" height="29.10" fill="#f23645" opacity="0.8"/>
<rect x="404.11" y="136.10" width="3.1" height="19.65" fill="#f23645"/>
<rect x="409.30" y="134.25" width="1" height="32.50" fill="#089981" opacity="0.8"/>
<rect x="408.25" y="147.00" width="3.1" height="10.75" fill="#089981"/>
<rect x="413.43" y="126.10" width="1" height="34.15" fill="#089981" opacity="0.8"/>
<rect x="412.38" y="130.25" width="3.1" height="27.50" fill="#089981"/>
<rect x="417.56" y="126.10" width="1" height="13.90" fill="#f23645" opacity="0.8"/>
<rect x="416.51" y="131.50" width="3.1" height="1.25" fill="#f23645"/>
<rect x="421.70" y="108.60" width="1" height="24.40" fill="#089981" opacity="0.8"/>
<rect x="420.65" y="124.00" width="3.1" height="8.40" fill="#089981"/>
<rect x="425.83" y="121.10" width="1" height="40.00" fill="#f23645" opacity="0.8"/>
<rect x="424.78" y="123.00" width="3.1" height="31.90" fill="#f23645"/>
<rect x="429.96" y="148.00" width="1" height="16.90" fill="#089981" opacity="0.8"/>
<rect x="428.91" y="153.85" width="3.1" height="1.20" fill="#089981"/>
<rect x="434.09" y="150.75" width="1" height="8.50" fill="#f23645" opacity="0.8"/>
<rect x="433.04" y="150.75" width="3.1" height="2.00" fill="#f23645"/>
</g>
<g>
<circle cx="434.65" cy="422" r="6.2" fill="#ffffff" stroke="#ab47bc" stroke-width="1.2"/>
<path d="M436.3 419.0 L432.6 422.3 L434.9 422.6 L433.1 425.1 L437.0 421.7 L434.7 421.4 Z" fill="#a73ebd" stroke="#a73ebd" stroke-width="0.5" stroke-linejoin="round"/>
</g>
<text class="ax" x="728.0" y="26.20">76.000</text>
<text class="ax" x="728.0" y="56.12">74.000</text>
<text class="ax" x="728.0" y="86.04">72.000</text>
<text class="ax" x="728.0" y="115.96">70.000</text>
<text class="ax" x="728.0" y="145.88">68.000</text>
<text class="ax" x="728.0" y="235.64">62.000</text>
<text class="ax" x="728.0" y="265.56">60.000</text>
<text class="ax" x="728.0" y="295.48">58.000</text>
<text class="ax" x="728.0" y="325.40">56.000</text>
<text class="ax" x="728.0" y="355.32">54.000</text>
<text class="ax" x="728.0" y="385.24">52.000</text>
<text class="ax" x="728.0" y="415.16">50.000</text>
<rect x="723" y="0" width="45" height="21" fill="#ffffff"/>
<rect x="724.5" y="2" width="41" height="17.4" rx="3" ry="3" fill="#ffffff" stroke="#f1f3f6" stroke-width="1"/>
<text x="730.3" y="13.4" style="font-size:7.8px;fill:#131722">USD</text>
<rect x="722.8" y="147" width="42" height="19.4" rx="1.8" fill="#f23645"/>
<text class="lb" x="727.9" y="155.2">67.372</text>
<text class="lb" x="728.3" y="164.1" style="fill:#fbcdd1;font-size:8.6px" textLength="32.6" lengthAdjust="spacingAndGlyphs">12:13:16</text>
<rect x="722.8" y="166.8" width="34.9" height="10.7" rx="1" fill="#089981"/>
<text class="lb" x="727.9" y="175.0">67.112</text>
<rect x="722.8" y="177.7" width="34.9" height="10.4" rx="1" fill="#000000"/>
<text class="lb" x="727.9" y="185.6">66.063</text>
<rect x="722.8" y="188.3" width="34.9" height="10.6" rx="1" fill="#b99a7b"/>
<text class="lb" x="727.9" y="196.8" style="fill:#1a130c">65.662</text>
<rect x="722.8" y="199.1" width="34.9" height="10.7" rx="1" fill="#2962ff"/>
<text class="lb" x="727.9" y="207.4">63.918</text>
<rect x="723" y="411.9" width="31.2" height="10.5" rx="1" fill="#ef5350"/>
<text class="lb" x="728.3" y="420.1">7.59<tspan dx="1">K</tspan></text>
<text class="tm" x="37.8" y="441.9" direction="rtl">أكتوبر</text>
<text class="tm" x="132.9" y="441.9" direction="rtl">نوفمبر</text>
<text class="tm" x="215.6" y="441.9" direction="rtl">ديسمبر</text>
<text x="306.5" y="442.7" style="font-size:9px;font-weight:bold;fill:#131722;text-anchor:middle">2026</text>
<text class="tm" x="393.3" y="441.9" direction="rtl">فبراير</text>
<text class="tm" x="475.9" y="441.9" direction="rtl">مارس</text>
<text class="tm" x="566.9" y="441.9" direction="rtl">أبريل</text>
<text class="tm" x="657.8" y="441.9" direction="rtl">مايو</text>
<text x="5.1" y="15" class="ti" textLength="75.6" lengthAdjust="spacingAndGlyphs">Oil - Brent (UKOIL)</text>
<text x="83.9" y="15" style="font-size:9.5px;fill:#131722;text-anchor:middle">·</text>
<text x="88.2" y="15" class="ti" textLength="4.2" lengthAdjust="spacingAndGlyphs">1</text>
<text x="91.9" y="14.2" style="font-size:7px;fill:#50535e" direction="rtl" text-anchor="end" textLength="10.4" lengthAdjust="spacingAndGlyphs">يوم</text>
<text x="105.8" y="15" style="font-size:9.5px;fill:#131722;text-anchor:middle">·</text>
<text x="109.4" y="15" class="ti" textLength="47.2" lengthAdjust="spacingAndGlyphs">Capital.com</text>
</svg>
</body>
</html>
